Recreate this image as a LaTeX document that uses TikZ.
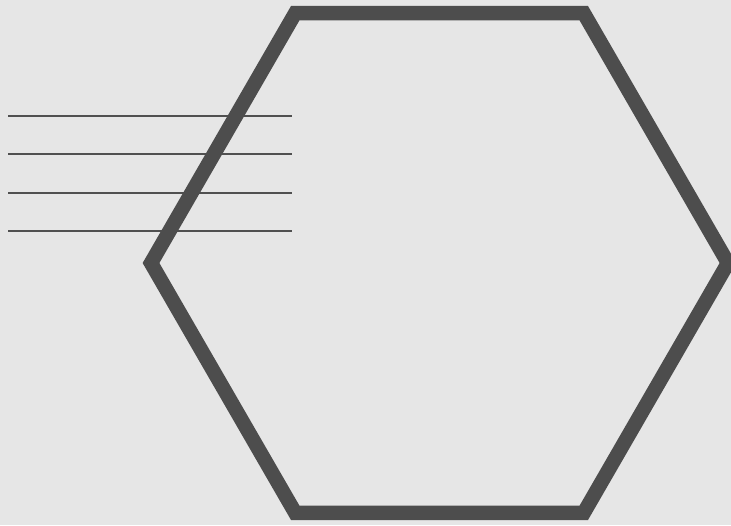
\documentclass[tikz,border=0pt]{standalone}
\definecolor{bgcol}{HTML}{E6E6E6}
\definecolor{hexcol}{HTML}{4D4D4D}
\definecolor{linecol}{HTML}{505050}

\newcommand*{\hexcx}{439.5}
\newcommand*{\hexcy}{263}
\newcommand*{\hexr}{288.5}

\begin{document}
\begin{tikzpicture}
[
	x=1pt,y=-1pt,
	rule/.style={linecol,line width=2.2pt},
	hexedge/.style={hexcol,line width=14.5pt,line join=miter}
]

	% background
	\fill[bgcol] (0,0) rectangle (731,525);
	\useasboundingbox (0,0) rectangle (731,525);
	\clip (0,0) rectangle (731,525);

	% lines
	\foreach \y in {116,154.3,192.7,231.2}
		\draw[rule] (8,\y) -- (292,\y);

	% hexagon
	\draw[hexedge] (\hexcx+\hexr,\hexcy)
		\foreach \a in {60,120,...,300} { -- ({\hexcx+\hexr*cos(\a)},{\hexcy-\hexr*sin(\a)}) } -- cycle;

\end{tikzpicture}
\end{document}
